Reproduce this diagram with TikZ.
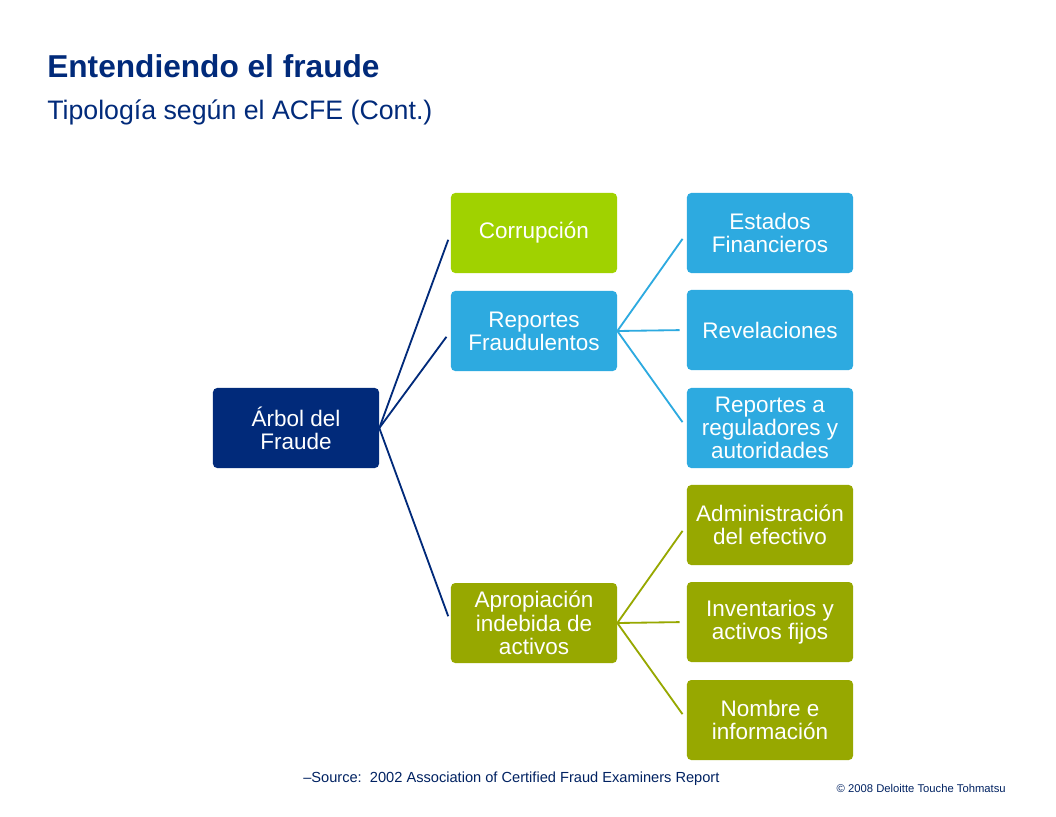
\documentclass[tikz,border=0pt]{standalone}
\usepackage{fontspec}
\setmainfont{Liberation Sans}
\definecolor{navy}{HTML}{012A7A}
\definecolor{lime}{HTML}{A0D200}
\definecolor{sky}{HTML}{2DAAE0}
\definecolor{olive}{HTML}{97A800}
\tikzset{
  box/.style={rounded corners=3pt, minimum width=4.15cm, minimum height=2cm,
    align=center, text=white, font=\fontsize{16}{16.5}\selectfont, inner sep=0pt},
  link/.style={line width=1.3pt, shorten >=0.18cm}
}
\begin{document}
\begin{tikzpicture}[x=0.025cm,y=-0.025cm]
    \useasboundingbox[fill=white] (0,0) rectangle (1056,816);
    % titles
    \node[anchor=west, inner sep=0pt, text=navy, font=\fontsize{22.5}{23}\selectfont\bfseries] (title) at (47,66) {Entendiendo el fraude};
    \node[anchor=west, inner sep=0pt, text=navy, font=\fontsize{19}{19}\selectfont] (sub) at (47,112) {Tipología según el ACFE (Cont.)};
    % boxes
    \node[box, fill=navy] (arbol) at (296,428) {Árbol del\\Fraude};
    \node[box, fill=lime] (corr) at (534,233) {Corrupción};
    \node[box, fill=sky] (rep) at (534,331) {Reportes\\Fraudulentos};
    \node[box, fill=olive] (apro) at (534,623) {Apropiación\\indebida de\\activos};
    \node[box, fill=sky] (est) at (770,233) {Estados\\Financieros};
    \node[box, fill=sky] (rev) at (770,330) {Revelaciones};
    \node[box, fill=sky] (regu) at (770,428) {Reportes a\\reguladores y\\autoridades};
    \node[box, fill=olive] (admin) at (770,525) {Administración\\del efectivo};
    \node[box, fill=olive] (inv) at (770,622) {Inventarios y\\activos fijos};
    \node[box, fill=olive] (nom) at (770,720) {Nombre e\\información};
    % connectors
    \foreach \n in {corr,rep,apro}
        \draw[link, navy] (arbol.east) -- (\n.west);
    \foreach \n in {est,rev,regu}
        \draw[link, sky] (rep.east) -- (\n.west);
    \foreach \n in {admin,inv,nom}
        \draw[link, olive] (apro.east) -- (\n.west);
    % footer
    \node[anchor=west, inner sep=0pt, text=navy!80!black, font=\fontsize{10.4}{10}\selectfont] (src) at (303,779) {--Source:\ \ 2002 Association of Certified Fraud Examiners Report};
    \node[anchor=east, inner sep=0pt, text=navy!80!black, font=\fontsize{8}{8}\selectfont] (copy) at (1006,788) {© 2008 Deloitte Touche Tohmatsu};
\end{tikzpicture}
\end{document}
